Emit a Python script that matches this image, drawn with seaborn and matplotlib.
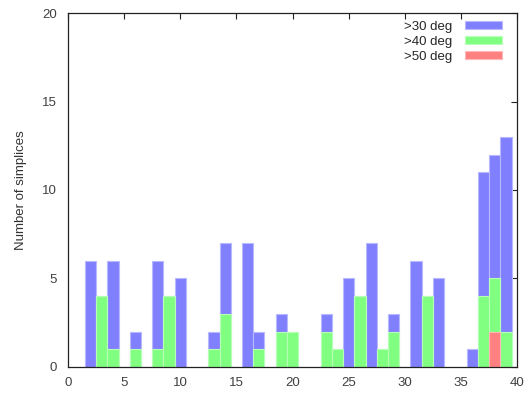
import matplotlib
matplotlib.use("Agg")
import matplotlib.pyplot as plt
from matplotlib.patches import Patch
import seaborn as sns
import pandas as pd

# Counts per bin for each angle threshold
bins_30 = [2, 3, 4, 6, 8, 9, 10, 13, 14, 16, 17, 19, 20, 23, 24, 25, 26, 27, 28, 29, 31, 32, 33, 36, 37, 38, 39]
count_30 = [6, 4, 6, 2, 6, 4, 5, 2, 7, 7, 2, 3, 2, 3, 1, 5, 4, 7, 1, 3, 6, 4, 5, 1, 11, 12, 13]

bins_40 = [3, 4, 6, 8, 9, 13, 14, 17, 19, 20, 23, 24, 26, 28, 29, 32, 37, 38, 39]
count_40 = [4, 1, 1, 1, 4, 1, 3, 1, 2, 2, 2, 1, 4, 1, 2, 4, 4, 5, 2]

bins_50 = [38]
count_50 = [2]

labels = [">30 deg", ">40 deg", ">50 deg"]
colors = ["#8080ff", "#80ff80", "#ff8080"]
edges = ["#b8b8ff", "#b8ffb8", "#ffb8b8"]

sns.set_style("white")
plt.rcParams["font.family"] = ["Liberation Sans", "DejaVu Sans"]

fig = plt.figure(figsize=(5.25, 3.96), dpi=100)
ax = fig.add_axes([0.1295, 0.0735, 0.8555, 0.8935])

series = [(bins_30, count_30), (bins_40, count_40), (bins_50, count_50)]
for (bx, cy), col, ec in zip(series, colors, edges):
    df = pd.DataFrame({"bin": bx, "count": cy})
    sns.barplot(data=df, x="bin", y="count", native_scale=True, width=1.0,
                color=col, saturation=1, edgecolor=ec, linewidth=0.8,
                errorbar=None, ax=ax)

ax.set_xlim(0, 40)
ax.set_ylim(0, 20)
ax.set_xticks(range(0, 41, 5))
ax.set_yticks(range(0, 21, 5))
ax.set_xlabel("")
ax.set_ylabel("Number of simplices", fontsize=9.5, color="#333333", labelpad=11)
ax.tick_params(direction="in", length=4, width=0.8, top=True, right=True,
               labelsize=9.5, labelcolor="#404040", color="#222222")
ax.tick_params(axis="x", pad=7)
ax.tick_params(axis="y", pad=8)
for s in ax.spines.values():
    s.set_color("#222222")
    s.set_linewidth(0.9)

handles = [Patch(facecolor=c, edgecolor=e, linewidth=0.8) for c, e in zip(colors, edges)]
ax.legend(handles, labels, loc="upper right", frameon=False, markerfirst=False,
          fontsize=9.5, handlelength=2.8, handleheight=0.55, labelspacing=0.25,
          handletextpad=1.0, borderaxespad=0.3, bbox_to_anchor=(0.987, 1.005))

fig.savefig("out.png", dpi=100)
